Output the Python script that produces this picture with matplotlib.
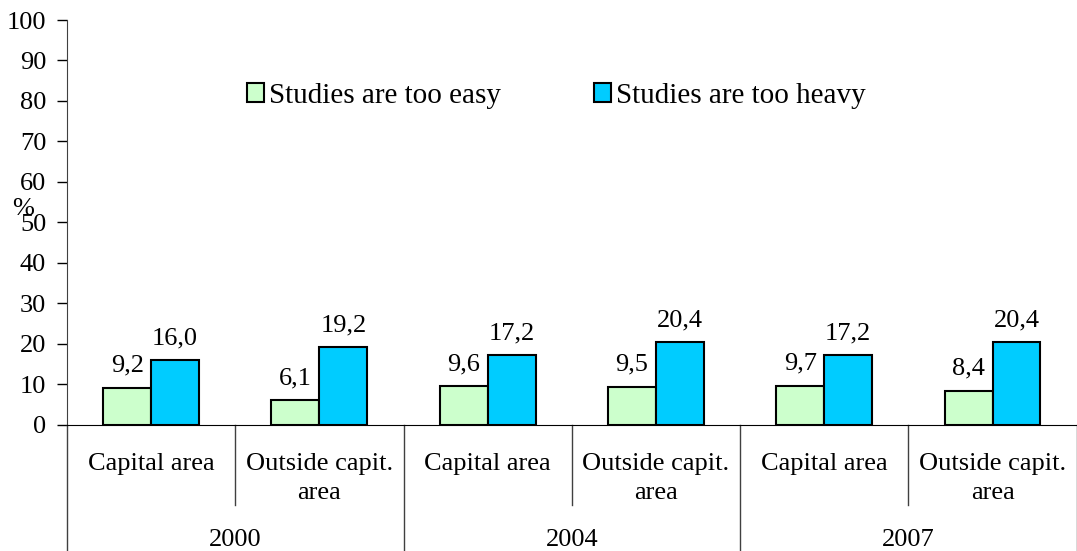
import numpy as np
import matplotlib.pyplot as plt

years = ['2000', '2004', '2007']
areas = ['Capital area', 'Outside capit.\narea']
too_easy = [9.2, 6.1, 9.6, 9.5, 9.7, 8.4]
too_heavy = [16.0, 19.2, 17.2, 20.4, 17.2, 20.4]
series_names = ['Studies are too easy', 'Studies are too heavy']
colors = ['#CCFFCC', '#00CCFF']

plt.rcParams['font.family'] = ['Liberation Serif', 'DejaVu Serif']
plt.rcParams['font.size'] = 19

fig = plt.figure(figsize=(10.77, 5.51), dpi=100)
ax = fig.add_axes([0.0622, 0.2287, 0.9375, 0.735])

x = np.arange(len(too_easy))
w = 0.285
b1 = ax.bar(x - w / 2, too_easy, w, color=colors[0], edgecolor='black', linewidth=1.5,
            label=series_names[0])
b2 = ax.bar(x + w / 2, too_heavy, w, color=colors[1], edgecolor='black', linewidth=1.5,
            label=series_names[1])

fmt = lambda v: f'{v:.1f}'.replace('.', ',')
for bars, vals in ((b1, too_easy), (b2, too_heavy)):
    for r, v in zip(bars, vals):
        ax.annotate(fmt(v), (r.get_x() + r.get_width() / 2, v), xytext=(0, 8),
                    textcoords='offset points', ha='center', va='bottom', fontsize=19)

ax.set_xlim(-0.5, len(x) - 0.5)
ax.set_ylim(0, 100)
ax.set_yticks(np.arange(0, 101, 10))
ax.set_xticks([])
ax.tick_params(axis='y', direction='out', length=7, width=1, labelsize=19, pad=8)
ax.spines['top'].set_visible(False)
ax.spines['right'].set_visible(False)
ax.spines['left'].set_color('#404040')
ax.set_ylabel('%', rotation=0, fontsize=19)
ax.yaxis.set_label_coords(-0.044, 0.505)

# category labels and separator lines below the axis
trans = ax.get_xaxis_transform()
for i in range(len(x)):
    ax.text(i, -0.068, areas[i % 2], transform=trans, ha='center', va='top',
            fontsize=19, linespacing=1.42)
for i in range(len(x) + 1):
    bottom = -0.311 if i % 2 == 0 else -0.1975
    ax.plot([i - 0.5, i - 0.5], [0, bottom], transform=trans, color='#404040',
            linewidth=1, clip_on=False)
for j, yr in enumerate(years):
    ax.text(2 * j + 0.5, -0.283, yr, transform=trans, ha='center', va='center', fontsize=19)

ax.legend(loc='upper left', bbox_to_anchor=(0.152, 0.91), ncol=2, frameon=False,
          handlelength=0.6, handleheight=0.6, handletextpad=0.15, columnspacing=3.2,
          fontsize=21)

fig.savefig('out.png', dpi=100)
